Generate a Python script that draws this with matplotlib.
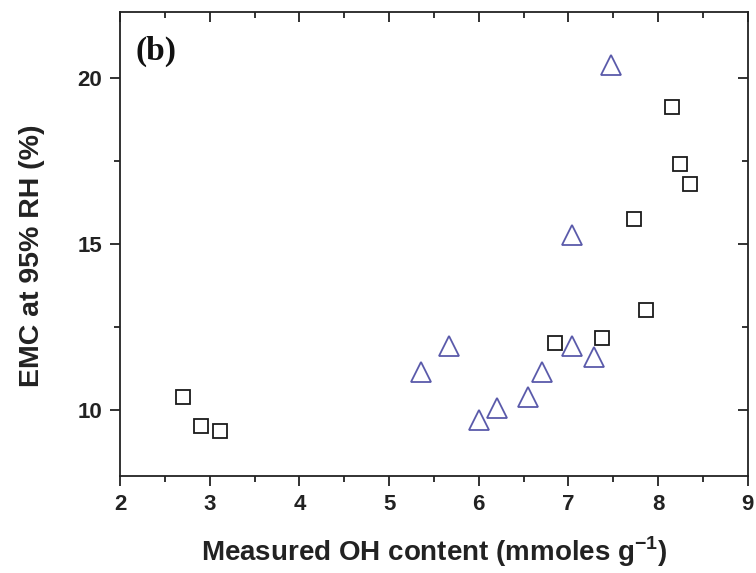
import matplotlib
matplotlib.use("Agg")
from matplotlib import pyplot as plt
from matplotlib.ticker import MultipleLocator

plt.rcParams['font.family'] = ['Liberation Sans', 'DejaVu Sans']
plt.rcParams['mathtext.fontset'] = 'custom'
plt.rcParams['mathtext.bf'] = 'Liberation Sans:bold'
plt.rcParams['mathtext.rm'] = 'Liberation Sans:bold'

# black squares
sq_oh = [2.70, 2.90, 3.11, 6.85, 7.38, 7.87, 7.73, 8.16, 8.25, 8.36]
sq_emc = [10.40, 9.50, 9.37, 12.02, 12.18, 13.00, 15.75, 19.13, 17.42, 16.81]

# blue triangles
tri_oh = [5.36, 5.67, 6.00, 6.20, 6.55, 6.70, 7.04, 7.28, 7.04, 7.47]
tri_emc = [11.15, 11.93, 9.68, 10.06, 10.39, 11.15, 11.93, 11.58, 15.27, 20.39]

fig = plt.figure(figsize=(7.56, 5.73), dpi=100)
ax = fig.add_axes([0.159, 0.169, 0.830, 0.810])

ax.plot(sq_oh, sq_emc, linestyle='none', marker='s', markersize=10,
        markerfacecolor='none', markeredgecolor='#1a1a1a', markeredgewidth=1.3)
ax.plot(tri_oh, tri_emc, linestyle='none', marker='^', markersize=15,
        markerfacecolor='none', markeredgecolor='#5a5aaa', markeredgewidth=1.3)

ax.set_xlim(2, 9)
ax.set_ylim(8, 22)
ax.xaxis.set_major_locator(MultipleLocator(1))
ax.xaxis.set_minor_locator(MultipleLocator(0.5))
ax.yaxis.set_major_locator(MultipleLocator(5))
ax.yaxis.set_minor_locator(MultipleLocator(2.5))

for s in ax.spines.values():
    s.set_linewidth(1.3)
    s.set_color('#222222')

ax.tick_params(which='both', direction='out', width=1.3, color='#222222',
               labelsize=16, pad=6)
ax.tick_params(which='major', length=7)
ax.tick_params(which='minor', length=4)
ax.tick_params(which='both', top=True, right=True)

# top/right ticks point inward
for t in ax.xaxis.get_major_ticks() + ax.xaxis.get_minor_ticks():
    t.tick2line.set_marker(matplotlib.lines.TICKDOWN)
for t in ax.yaxis.get_major_ticks() + ax.yaxis.get_minor_ticks():
    t.tick2line.set_marker(matplotlib.lines.TICKLEFT)

for lbl in ax.get_xticklabels() + ax.get_yticklabels():
    lbl.set_fontweight('bold')
    lbl.set_color('#222222')

ax.set_xlabel('Measured OH content (mmoles g$^{\\mathbf{-1}}$)', fontsize=20,
              fontweight='bold', color='#222222', labelpad=14)
ax.set_ylabel('EMC at 95% RH (%)', fontsize=20.5, fontweight='bold',
              color='#222222', labelpad=23)
ax.yaxis.label.set_y(0.475)

ax.text(0.024, 0.915, '(b)', transform=ax.transAxes, fontsize=24,
        fontweight='bold', family='Liberation Serif', va='center', color='#111111')

fig.savefig('out.png', dpi=100)
